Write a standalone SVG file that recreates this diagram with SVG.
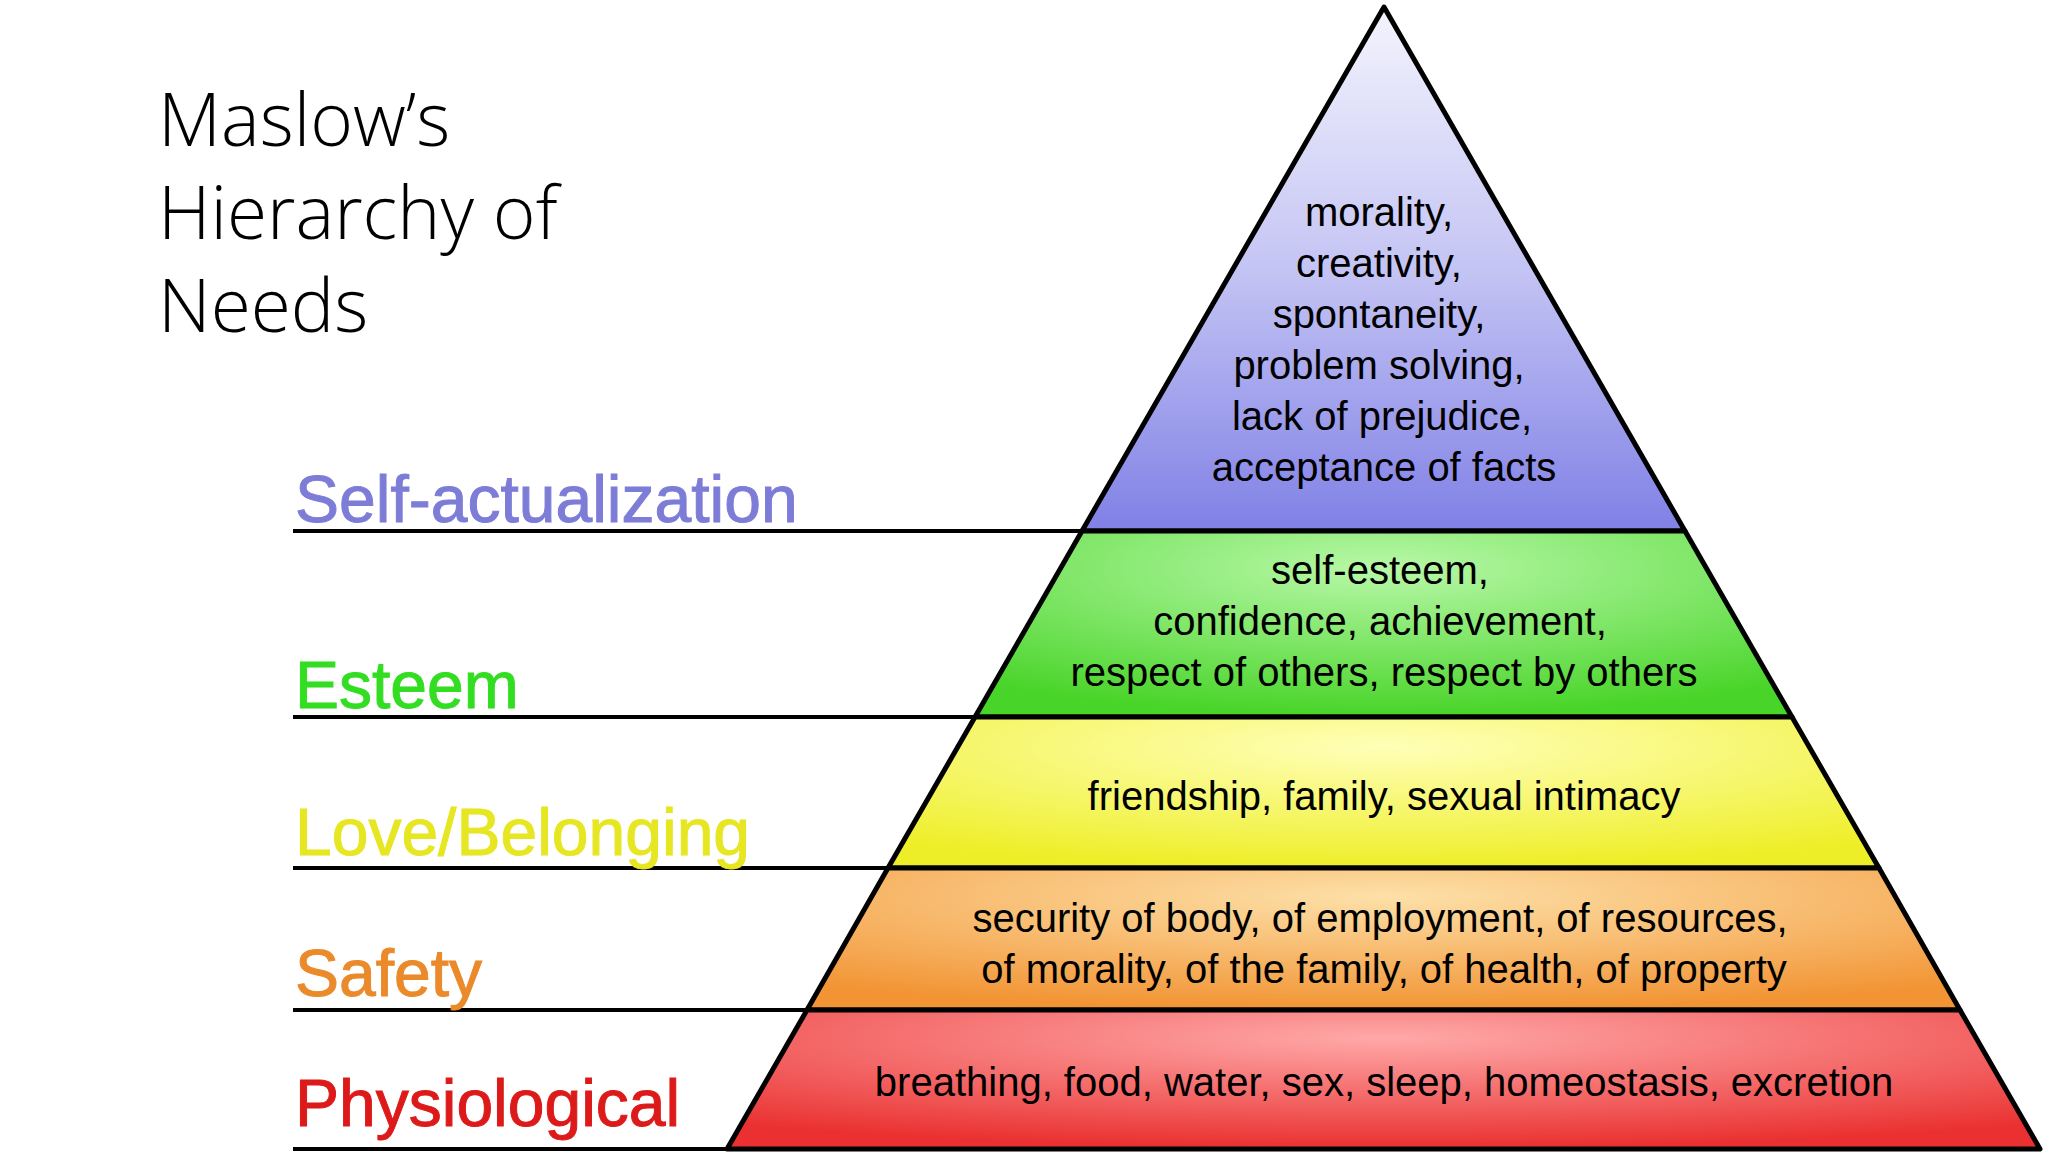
<svg xmlns="http://www.w3.org/2000/svg" width="2048" height="1152" viewBox="0 0 2048 1152">
<defs>
<linearGradient id="g1" x1="0" y1="0" x2="0" y2="1"><stop offset="0" stop-color="#f4f4fd"/><stop offset="0.5" stop-color="#c4c4f4"/><stop offset="1" stop-color="#8080e6"/></linearGradient>
<radialGradient id="g2" cx="0.5" cy="0.2" r="0.8"><stop offset="0" stop-color="#b8f8a8"/><stop offset="1" stop-color="#48d428"/></radialGradient>
<radialGradient id="g3" cx="0.5" cy="0.2" r="0.8"><stop offset="0" stop-color="#ffffb8"/><stop offset="1" stop-color="#eeee28"/></radialGradient>
<radialGradient id="g4" cx="0.5" cy="0.2" r="0.8"><stop offset="0" stop-color="#fde0a8"/><stop offset="1" stop-color="#f29434"/></radialGradient>
<radialGradient id="g5" cx="0.5" cy="0.2" r="0.8"><stop offset="0" stop-color="#ffa8a8"/><stop offset="1" stop-color="#ea3030"/></radialGradient>
</defs>
<style>
.layer{stroke:#000;stroke-width:5;stroke-linejoin:round}
.t{font-family:"Liberation Sans",Arial,sans-serif;font-size:40px;fill:#000;text-anchor:middle}
.lbl{font-family:"Liberation Sans",Arial,sans-serif;font-size:66px;stroke-width:1}
.title{font-family:"Open Sans","Noto Sans",sans-serif;font-size:73px;font-weight:300;fill:#000}
.ln{stroke:#000;stroke-width:4}
</style>
<rect width="2048" height="1152" fill="#fff"/>
<g id="title"><text class="title" x="158" y="146">Maslow’s</text><text class="title" x="158" y="239">Hierarchy of</text><text class="title" x="158" y="332">Needs</text></g>
<g id="connectors">
<line class="ln" x1="293" y1="531" x2="1082" y2="531"/>
<line class="ln" x1="293" y1="717" x2="975" y2="717"/>
<line class="ln" x1="293" y1="868" x2="888" y2="868"/>
<line class="ln" x1="293" y1="1010" x2="807" y2="1010"/>
<line class="ln" x1="293" y1="1149" x2="727" y2="1149"/>
</g>
<g id="self">
<polygon class="layer" points="1384,7 1685,531 1082,531" fill="url(#g1)"/>
<text class="t"><tspan x="1379" y="226">morality,</tspan><tspan x="1379" y="277">creativity,</tspan><tspan x="1379" y="328">spontaneity,</tspan><tspan x="1379" y="379">problem solving,</tspan><tspan x="1382" y="430">lack of prejudice,</tspan><tspan x="1384" y="481">acceptance of facts</tspan></text>
<text class="lbl" x="295" y="522" fill="#7d7dd8" stroke="#7d7dd8">Self-actualization</text>
</g>
<g id="esteem">
<polygon class="layer" points="1082,531 1685,531 1792,717 975,717" fill="url(#g2)"/>
<text class="t"><tspan x="1380" y="584">self-esteem,</tspan><tspan x="1380" y="635">confidence, achievement,</tspan><tspan x="1384" y="686">respect of others, respect by others</tspan></text>
<text class="lbl" x="295" y="708" fill="#33dd22" stroke="#33dd22">Esteem</text>
</g>
<g id="love">
<polygon class="layer" points="975,717 1792,717 1879,868 888,868" fill="url(#g3)"/>
<text class="t" x="1384" y="810">friendship, family, sexual intimacy</text>
<text class="lbl" x="295" y="855" fill="#e6e622" stroke="#e6e622">Love/Belonging</text>
</g>
<g id="safety">
<polygon class="layer" points="888,868 1879,868 1960,1010 807,1010" fill="url(#g4)"/>
<text class="t"><tspan x="1380" y="932">security of body, of employment, of resources,</tspan><tspan x="1384" y="983">of morality, of the family, of health, of property</tspan></text>
<text class="lbl" x="295" y="996" fill="#ea8a2a" stroke="#ea8a2a">Safety</text>
</g>
<g id="physio">
<polygon class="layer" points="807,1010 1960,1010 2040,1149 727,1149" fill="url(#g5)"/>
<text class="t" x="1384" y="1096">breathing, food, water, sex, sleep, homeostasis, excretion</text>
<text class="lbl" x="295" y="1126" fill="#dd1a1a" stroke="#dd1a1a">Physiological</text>
</g>
</svg>
